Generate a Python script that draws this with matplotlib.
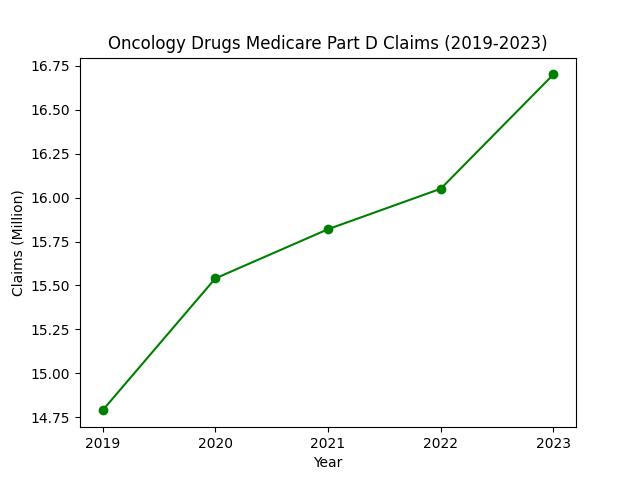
import matplotlib
matplotlib.use("Agg")
import matplotlib.pyplot as plt

years = [2019, 2020, 2021, 2022, 2023]
claims = [14.79, 15.54, 15.82, 16.05, 16.70]

fig, ax = plt.subplots(figsize=(6.4, 4.8), dpi=100)
ax.plot(years, claims, marker='o', color='green')
ax.set_title("Oncology Drugs Medicare Part D Claims (2019-2023)")
ax.set_xlabel("Year")
ax.set_ylabel("Claims (Million)")
ax.set_xticks(years)

plt.savefig("out.png")
